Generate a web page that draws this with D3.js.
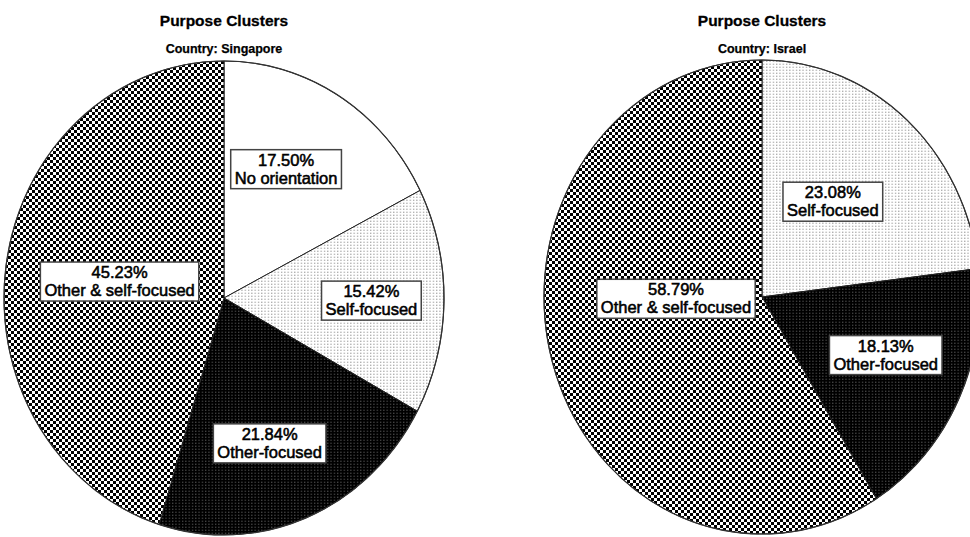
<!DOCTYPE html>
<html>
<head>
<meta charset="utf-8">
<script src="https://cdn.jsdelivr.net/npm/d3@7"></script>
<style>
  body { margin: 0; background: #fff; }
  svg { display: block; }
</style>
</head>
<body>
<div id="chart"></div>
<script>
// Data, clockwise from 12 o'clock
const sgCategories = ["No orientation", "Self-focused", "Other-focused", "Other & self-focused"];
const sgValues = [17.50, 15.42, 21.84, 45.23];
const ilCategories = ["Self-focused", "Other-focused", "Other & self-focused"];
const ilValues = [23.08, 18.13, 58.79];
const countries = ["Singapore", "Israel"];

const width = 970;
const height = 537;

const svg = d3.select("#chart")
  .append("svg")
  .attr("width", width)
  .attr("height", height);

const defs = svg.append("defs");

// Fill patterns for the clusters
const dots = defs.append("pattern")
  .attr("id", "pat-self")
  .attr("patternUnits", "userSpaceOnUse")
  .attr("width", 3.3).attr("height", 3);
dots.append("rect").attr("width", 3.3).attr("height", 3).attr("fill", "#fff");
dots.append("rect").attr("x", 1).attr("y", 0.6).attr("width", 1).attr("height", 1.4).attr("fill", "#999");

const darkDots = defs.append("pattern")
  .attr("id", "pat-other")
  .attr("patternUnits", "userSpaceOnUse")
  .attr("width", 3.3).attr("height", 3);
darkDots.append("rect").attr("width", 3.3).attr("height", 3).attr("fill", "#000");
darkDots.append("rect").attr("x", 1).attr("y", 0.6).attr("width", 1).attr("height", 1.4).attr("fill", "#555");

const checker = defs.append("pattern")
  .attr("id", "pat-both")
  .attr("patternUnits", "userSpaceOnUse")
  .attr("width", 6).attr("height", 6);
checker.append("rect").attr("width", 6).attr("height", 6).attr("fill", "#fff");
checker.append("rect").attr("width", 3).attr("height", 3).attr("fill", "#000");
checker.append("rect").attr("x", 3).attr("y", 3).attr("width", 3).attr("height", 3).attr("fill", "#000");

const fillFor = d3.scaleOrdinal()
  .domain(["No orientation", "Self-focused", "Other-focused", "Other & self-focused"])
  .range(["#fff", "url(#pat-self)", "url(#pat-other)", "url(#pat-both)"]);

const pie = d3.pie().sort(null).value((d) => d.value);

// Elliptical wedge path from pie angles
function wedge(d, rx, ry) {
  const x0 = rx * Math.sin(d.startAngle), y0 = -ry * Math.cos(d.startAngle);
  const x1 = rx * Math.sin(d.endAngle), y1 = -ry * Math.cos(d.endAngle);
  const large = d.endAngle - d.startAngle > Math.PI ? 1 : 0;
  return `M0,0L${x0},${y0}A${rx},${ry} 0 ${large} 1 ${x1},${y1}Z`;
}

// labelFrac: [x, y] fraction of the radii along each slice's mid angle
function drawPie(cx, cy, rx, ry, country, cats, vals, labelFrac) {
  const g = svg.append("g").attr("transform", `translate(${cx},${cy})`);
  const data = cats.map((c, i) => ({ name: c, value: vals[i] }));
  const arcs = pie(data);

  g.selectAll("path")
    .data(arcs)
    .enter()
    .append("path")
    .attr("d", (d) => wedge(d, rx, ry))
    .attr("fill", (d) => fillFor(d.data.name))
    .attr("stroke", "#222")
    .attr("stroke-width", 1);

  g.append("ellipse")
    .attr("rx", rx).attr("ry", ry)
    .attr("fill", "none")
    .attr("stroke", "#333")
    .attr("stroke-width", 1.2);

  // Labels
  const lab = g.selectAll("g.lab")
    .data(arcs)
    .enter()
    .append("g")
    .attr("class", "lab")
    .attr("transform", (d, i) => {
      const a = (d.startAngle + d.endAngle) / 2;
      return `translate(${rx * labelFrac[i][0] * Math.sin(a)},${-ry * labelFrac[i][1] * Math.cos(a)})`;
    });

  lab.each(function (d) {
    const el = d3.select(this);
    const t = el.append("text")
      .attr("text-anchor", "middle")
      .style("font-family", "Liberation Sans, Arial, sans-serif")
      .style("font-size", "16.5px")
      .attr("fill", "#000")
      .attr("stroke", "#000")
      .attr("stroke-width", 0.55);
    t.append("tspan").attr("x", 0).attr("y", -3).text(d3.format(".2f")(d.data.value) + "%");
    t.append("tspan").attr("x", 0).attr("y", 15).text(d.data.name);
    const bb = t.node().getBBox();
    el.insert("rect", "text")
      .attr("x", bb.x - 4)
      .attr("y", bb.y - 1)
      .attr("width", bb.width + 8)
      .attr("height", bb.height + 3)
      .attr("fill", "#fff")
      .attr("stroke", "#444")
      .attr("stroke-width", 1.5);
  });

  svg.append("text")
    .attr("x", cx).attr("y", 26)
    .attr("text-anchor", "middle")
    .style("font-family", "Liberation Sans, Arial, sans-serif")
    .style("font-size", "15.5px")
    .style("font-weight", "bold")
    .attr("stroke", "#000")
    .attr("stroke-width", 0.3)
    .text("Purpose Clusters");

  svg.append("text")
    .attr("x", cx).attr("y", 53)
    .attr("text-anchor", "middle")
    .style("font-family", "Liberation Sans, Arial, sans-serif")
    .style("font-size", "12.5px")
    .style("font-weight", "bold")
    .attr("stroke", "#000")
    .attr("stroke-width", 0.25)
    .text("Country: " + country);
}

drawPie(224, 298, 220, 237, countries[0], sgCategories, sgValues,
  [[0.54, 0.64], [0.67, 0.67], [0.55, 0.66], [0.48, 0.48]]);
drawPie(762, 297, 218, 237, countries[1], ilCategories, ilValues,
  [[0.49, 0.54], [0.63, 0.56], [0.41, 0.02]]);
</script>
</body>
</html>
